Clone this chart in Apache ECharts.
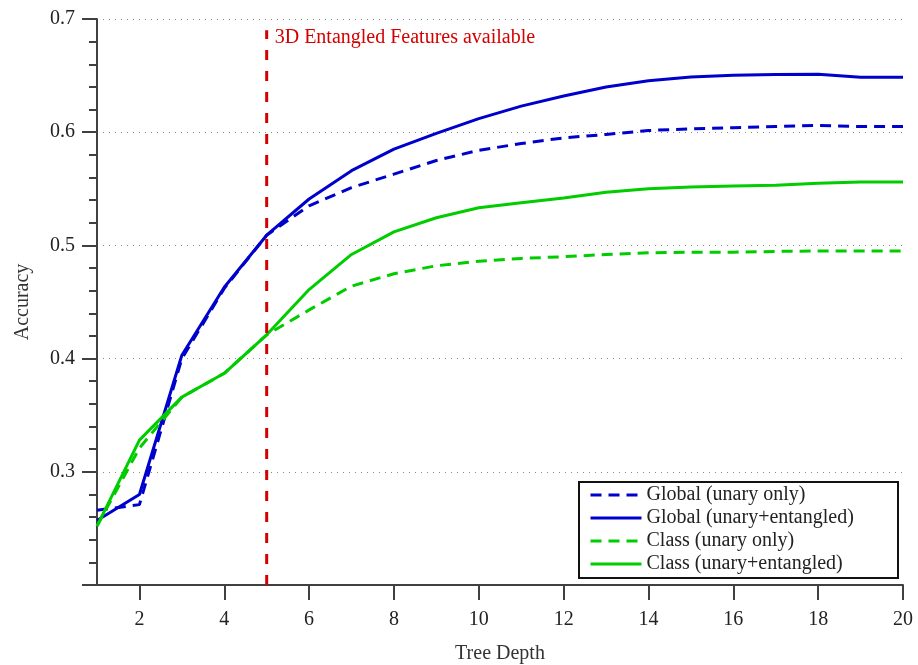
<!DOCTYPE html>
<html>
<head>
<meta charset="utf-8">
<style>
  html, body { margin: 0; padding: 0; background: #ffffff; overflow: hidden; }
  #chart { width: 918px; height: 665px; }
</style>
<script src="https://cdn.jsdelivr.net/npm/echarts@6/dist/echarts.min.js"></script>
</head>
<body>
<div id="chart"></div>
<script>
// Tree depth on the x axis
const depths = [1, 2, 3, 4, 5, 6, 7, 8, 9, 10, 11, 12, 13, 14, 15, 16, 17, 18, 19, 20];

// Accuracy per depth for each feature set
const globalUnary = [0.266, 0.271, 0.400, 0.462, 0.509, 0.535, 0.551, 0.563, 0.575, 0.584,
                     0.590, 0.595, 0.598, 0.6015, 0.603, 0.604, 0.605, 0.606, 0.605, 0.605];
const globalEntangled = [0.257, 0.280, 0.403, 0.463, 0.509, 0.541, 0.566, 0.585, 0.599, 0.612,
                         0.623, 0.632, 0.640, 0.6455, 0.6488, 0.6503, 0.651, 0.6512, 0.6485, 0.6485];
const classUnary = [0.252, 0.321, 0.366, 0.387, 0.421, 0.443, 0.464, 0.475, 0.482, 0.486,
                    0.4885, 0.490, 0.492, 0.4935, 0.494, 0.494, 0.4947, 0.495, 0.495, 0.495];
const classEntangled = [0.252, 0.328, 0.366, 0.387, 0.421, 0.461, 0.492, 0.512, 0.5244, 0.5332,
                        0.5376, 0.5418, 0.547, 0.550, 0.5515, 0.5524, 0.5532, 0.555, 0.5559, 0.5559];

// Depth at which the entangled features become available
const markerDepth = 5;
const markerRange = [0.2, 0.69];
const markerText = '3D Entangled Features available';

const seriesNames = ['Global (unary only)', 'Global (unary+entangled)', 'Class (unary only)', 'Class (unary+entangled)'];
const xTickValues = [2, 4, 6, 8, 10, 12, 14, 16, 18, 20];

const FONT = '"Liberation Serif", "DejaVu Serif", serif';
const BLUE = '#0000cc';
const GREEN = '#00cc00';
const RED = '#d40000';
const AXIS = '#404040';

const pairs = (ys) => depths.map((d, i) => [d, ys[i]]);

function lineSeries(name, ys, color, dashed) {
  return {
    name: name,
    type: 'line',
    data: pairs(ys),
    symbol: 'none',
    showSymbol: false,
    smooth: false,
    animation: false,
    lineStyle: { color: color, width: 3, type: dashed ? [11, 7] : 'solid' },
    itemStyle: { color: color },
    z: 3
  };
}

const chart = echarts.init(document.getElementById('chart'), null, { renderer: 'canvas' });

chart.setOption({
  backgroundColor: '#ffffff',
  animation: false,
  grid: { left: 97, right: 15, top: 19, bottom: 80, containLabel: false, outerBoundsMode: 'none' },
  xAxis: {
    type: 'value',
    min: 1,
    max: 20,
    name: 'Tree Depth',
    nameLocation: 'middle',
    nameGap: 59,
    nameTextStyle: { fontFamily: FONT, fontSize: 20, color: '#333' },
    axisLine: { show: true, onZero: false, lineStyle: { color: AXIS, width: 2 } },
    axisTick: { show: true, inside: false, length: 15, customValues: xTickValues, lineStyle: { color: AXIS, width: 2 } },
    axisLabel: { customValues: xTickValues, margin: 25, fontFamily: FONT, fontSize: 20, color: '#222' },
    splitLine: { show: false }
  },
  yAxis: {
    type: 'value',
    min: 0.2,
    max: 0.7,
    interval: 0.1,
    name: 'Accuracy',
    nameLocation: 'middle',
    nameGap: 64,
    nameTextStyle: { fontFamily: FONT, fontSize: 20, color: '#333' },
    axisLine: { show: true, lineStyle: { color: AXIS, width: 2 } },
    axisTick: { show: true, inside: false, length: 15, lineStyle: { color: AXIS, width: 2 } },
    minorTick: { show: true, splitNumber: 5, length: 8, lineStyle: { color: AXIS, width: 2 } },
    axisLabel: {
      margin: 22, fontFamily: FONT, fontSize: 20, color: '#222',
      showMinLabel: false,
      formatter: (v) => v.toFixed(1)
    },
    splitLine: { show: true, lineStyle: { color: '#888', width: 1, type: [1, 5] } }
  },
  legend: {
    data: seriesNames,
    orient: 'vertical',
    left: 589,
    top: 485,
    padding: 0,
    itemGap: 3,
    itemWidth: 51,
    itemHeight: 14,
    z: 200,
    itemStyle: { color: 'rgba(0,0,0,0)', borderWidth: 0, opacity: 0 },
    lineStyle: { width: 3 },
    textStyle: { fontFamily: FONT, fontSize: 20, color: '#222', lineHeight: 20 },
    selectedMode: false
  },
  graphic: [{
    type: 'rect',
    left: 578,
    top: 481,
    shape: { width: 319, height: 96 },
    style: { fill: '#ffffff', stroke: '#111', lineWidth: 2 },
    z: 50,
    silent: true
  }],
  series: [
    lineSeries(seriesNames[0], globalUnary, BLUE, true),
    lineSeries(seriesNames[1], globalEntangled, BLUE, false),
    lineSeries(seriesNames[2], classUnary, GREEN, true),
    lineSeries(seriesNames[3], classEntangled, GREEN, false),
    {
      name: 'marker',
      type: 'line',
      symbol: 'none',
      animation: false,
      data: [
        [markerDepth, markerRange[0]],
        [markerDepth, markerRange[1]]
      ],
      endLabel: {
        show: true,
        distance: 8,
        offset: [0, 7],
        formatter: markerText,
        fontFamily: FONT,
        fontSize: 20,
        color: RED
      },
      lineStyle: { color: RED, width: 3, type: [10, 11] },
      itemStyle: { color: RED },
      z: 4
    }
  ]
});
</script>
</body>
</html>
